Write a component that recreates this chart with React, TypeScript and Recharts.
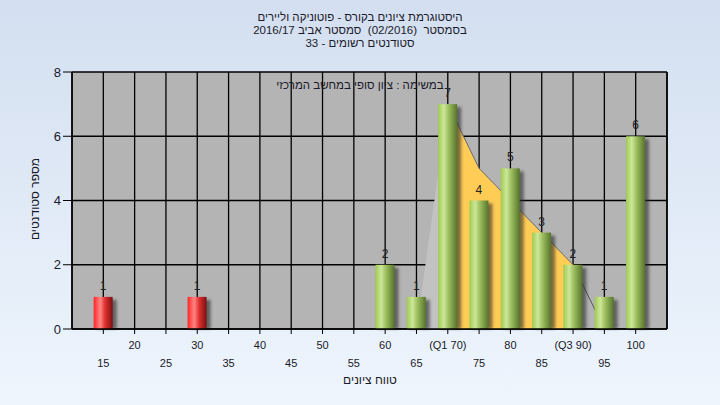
import React from 'react';
import {
  ComposedChart,
  Bar,
  Area,
  XAxis,
  YAxis,
  CartesianGrid,
  LabelList,
} from 'recharts';

// ---- data ----
const gradeBins = [15, 20, 25, 30, 35, 40, 45, 50, 55, 60, 65, 70, 75, 80, 85, 90, 95, 100];
const studentCounts = [1, 0, 0, 1, 0, 0, 0, 0, 0, 2, 1, 7, 4, 5, 3, 2, 1, 6];
const tickLabels = ['15', '20', '25', '30', '35', '40', '45', '50', '55', '60', '65', '(Q1 70)', '75', '80', '85', '(Q3 90)', '95', '100'];
// shaded distribution shape
const riseArea: (number | null)[] = [null, null, null, null, null, null, null, null, null, null, 0, 7, null, null, null, null, null, null];
const quartileArea: (number | null)[] = [null, null, null, null, null, null, null, null, null, null, null, 7, 5, 4, 3, 2, null, null];
const tailLine: (number | null)[] = [null, null, null, null, null, null, null, null, null, null, null, null, null, null, null, 2, 0, null];
const yTicks = [0, 2, 4, 6, 8];
const passThreshold = 55;

const titleLines = [
  'היסטוגרמת ציונים בקורס - פוטוניקה וליירים',
  'בסמסטר  (02/2016)  סמסטר אביב 2016/17',
  'סטודנטים רשומים - 33',
];
const legendText = 'במשימה : ציון סופי במחשב המרכזי';
const xTitle = 'טווח ציונים';
const yTitle = 'מספר סטודנטים';

const data = gradeBins.map((g, i) => ({
  grade: g,
  count: studentCounts[i],
  rise: riseArea[i],
  quart: quartileArea[i],
  tail: tailLine[i],
  label: tickLabels[i],
}));

const FONT = '"Liberation Sans", Arial, sans-serif';

const BarShape = (props: any) => {
  const { x, y, width, height, payload } = props;
  if (!height || height <= 0) return null;
  const fail = payload.grade < passThreshold;
  return (
    <g>
      <rect x={x + 3} y={y + 3} width={width + 1} height={height - 3} fill="#2a2a2a" opacity={0.6} filter="url(#shadowBlur)" />
      <rect x={x} y={y} width={width} height={height} fill={fail ? 'url(#redGrad)' : 'url(#greenGrad)'} />
    </g>
  );
};

const XTick = (props: any) => {
  const { x, y, payload } = props;
  const v = payload.value as number;
  const idx = gradeBins.indexOf(v);
  const text = idx >= 0 ? tickLabels[idx] : String(v);
  const top = v % 10 === 0;
  return (
    <text x={x} y={top ? y + 13 : y + 31} textAnchor="middle" fontSize={11} fontFamily={FONT} fill="#1a1a2a">
      {text}
    </text>
  );
};

const CountLabel = (props: any) => {
  const { x, y, width, value } = props;
  if (!value) return null;
  return (
    <text x={x + width / 2} y={y - 7} textAnchor="middle" fontSize={12} fontFamily={FONT} fill="#222">
      {value}
    </text>
  );
};

export default function App() {
  return (
    <div
      style={{
        position: 'absolute',
        left: 0,
        top: 0,
        width: 720,
        height: 405,
        background: 'linear-gradient(#d3dff0, #eef5fd)',
        fontFamily: FONT,
        overflow: 'hidden',
      }}
    >
      <div style={{ position: 'absolute', left: 0, top: 11, width: 720, textAlign: 'center', fontSize: 11.5, lineHeight: '13px', color: '#1a1a2a', whiteSpace: 'pre' }} dir="rtl">
        {titleLines.map((t, i) => (
          <div key={i}>{t}</div>
        ))}
      </div>
      <ComposedChart
        width={720}
        height={405}
        data={data}
        margin={{ top: 72, right: 0, bottom: 0, left: 0 }}
        style={{ position: 'absolute', left: 0, top: 0 }}
      >
        <defs>
          <linearGradient id="greenGrad" x1="0" y1="0" x2="1" y2="0">
            <stop offset="0%" stopColor="#9fcb4f" />
            <stop offset="30%" stopColor="#cde79a" />
            <stop offset="55%" stopColor="#9dbf5e" />
            <stop offset="100%" stopColor="#56742c" />
          </linearGradient>
          <linearGradient id="redGrad" x1="0" y1="0" x2="1" y2="0">
            <stop offset="0%" stopColor="#ff2424" />
            <stop offset="35%" stopColor="#ff8585" />
            <stop offset="60%" stopColor="#e03030" />
            <stop offset="100%" stopColor="#7a1010" />
          </linearGradient>
          <filter id="shadowBlur" x="-50%" y="-50%" width="200%" height="200%">
            <feGaussianBlur stdDeviation="1.8" />
          </filter>
        </defs>
        <CartesianGrid yAxisId="left" stroke="#000" strokeWidth={1.3} fill="#b4b4b4" fillOpacity={1} />
        <XAxis
          dataKey="grade"
          type="number"
          domain={[10, 105]}
          ticks={gradeBins}
          interval={0}
          height={76}
          tick={<XTick />}
          tickLine={{ stroke: '#000' }}
          tickSize={5}
          axisLine={{ stroke: '#000', strokeWidth: 1.5 }}
          allowDataOverflow
        />
        <YAxis
          yAxisId="left"
          orientation="left"
          width={72}
          domain={[0, 8]}
          ticks={yTicks}
          tickSize={9}
          tickMargin={2}
          tick={{ fontSize: 13, fill: '#1a1a2a', fontFamily: FONT }}
          tickLine={{ stroke: '#000' }}
          axisLine={{ stroke: '#000', strokeWidth: 1.5 }}
        />
        <YAxis
          yAxisId="right"
          orientation="right"
          width={53}
          domain={[0, 8]}
          ticks={yTicks}
          tickSize={9}
          tickMargin={2}
          tick={{ fontSize: 13, fill: '#1a1a2a', fontFamily: FONT, textAnchor: 'start' }}
          tickLine={{ stroke: '#000' }}
          axisLine={{ stroke: '#000', strokeWidth: 1.5 }}
        />
        <Area yAxisId="left" type="linear" dataKey="rise" stroke="none" fill="#c2c2c2" fillOpacity={1} dot={false} activeDot={false} isAnimationActive={false} />
        <Area yAxisId="left" type="linear" dataKey="quart" stroke="#6a6a6a" strokeWidth={1} fill="#ffcc55" fillOpacity={1} dot={false} activeDot={false} isAnimationActive={false} />
        <Area yAxisId="left" type="linear" dataKey="tail" stroke="#555" strokeWidth={1} fill="none" fillOpacity={0} dot={false} activeDot={false} isAnimationActive={false} />
        <Bar yAxisId="left" dataKey="count" barSize={19} shape={<BarShape />} isAnimationActive={false}>
          <LabelList dataKey="count" content={<CountLabel />} />
        </Bar>
      </ComposedChart>
      <div style={{ position: 'absolute', left: 210, top: 79, width: 300, textAlign: 'center', fontSize: 11.5, color: '#1a1a2a' }} dir="rtl">
        {legendText}
      </div>
      <div style={{ position: 'absolute', left: 270, top: 373, width: 200, textAlign: 'center', fontSize: 12, color: '#1a1a2a' }} dir="rtl">
        {xTitle}
      </div>
      <div
        style={{
          position: 'absolute',
          left: 35 - 60,
          top: 200 - 8,
          width: 120,
          textAlign: 'center',
          fontSize: 12,
          color: '#1a1a2a',
          transform: 'rotate(-90deg)',
        }}
        dir="rtl"
      >
        {yTitle}
      </div>
    </div>
  );
}
